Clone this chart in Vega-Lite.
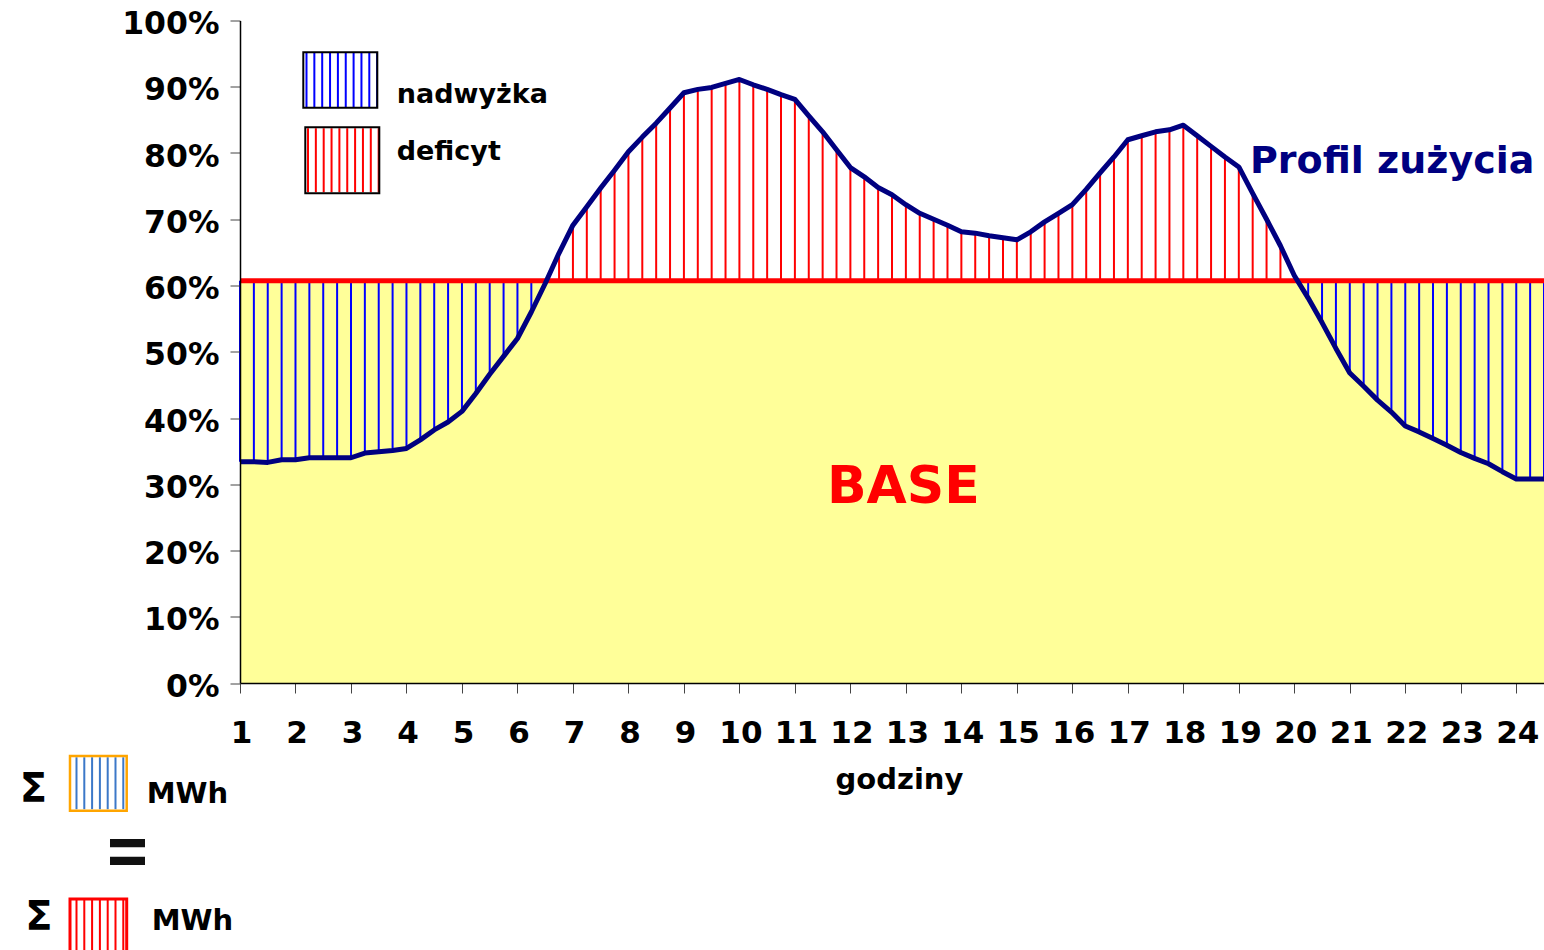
{
  "$schema": "https://vega.github.io/schema/vega-lite/v6.json",
  "width": 1304,
  "height": 662.5,
  "padding": {"left": 240, "top": 20.5, "right": 0, "bottom": 267},
  "autosize": {"type": "none"},
  "background": "white",
  "config": {"view": {"stroke": null}, "font": "DejaVu Sans"},
  "data": {"values": [
    {"h": 1.00, "v": 0.334}, {"h": 1.25, "v": 0.334}, {"h": 1.50, "v": 0.333}, {"h": 1.75, "v": 0.337},
    {"h": 2.00, "v": 0.337}, {"h": 2.25, "v": 0.340}, {"h": 2.50, "v": 0.340}, {"h": 2.75, "v": 0.340},
    {"h": 3.00, "v": 0.340}, {"h": 3.25, "v": 0.347}, {"h": 3.50, "v": 0.349}, {"h": 3.75, "v": 0.351},
    {"h": 4.00, "v": 0.354}, {"h": 4.25, "v": 0.367}, {"h": 4.50, "v": 0.382}, {"h": 4.75, "v": 0.394},
    {"h": 5.00, "v": 0.410}, {"h": 5.25, "v": 0.437}, {"h": 5.50, "v": 0.466}, {"h": 5.75, "v": 0.493},
    {"h": 6.00, "v": 0.520}, {"h": 6.25, "v": 0.560}, {"h": 6.50, "v": 0.603}, {"h": 6.75, "v": 0.649},
    {"h": 7.00, "v": 0.691}, {"h": 7.25, "v": 0.719}, {"h": 7.50, "v": 0.747}, {"h": 7.75, "v": 0.774},
    {"h": 8.00, "v": 0.802}, {"h": 8.25, "v": 0.824}, {"h": 8.50, "v": 0.845}, {"h": 8.75, "v": 0.868},
    {"h": 9.00, "v": 0.891}, {"h": 9.25, "v": 0.896}, {"h": 9.50, "v": 0.899}, {"h": 9.75, "v": 0.905},
    {"h": 10.00, "v": 0.911}, {"h": 10.25, "v": 0.903}, {"h": 10.50, "v": 0.896}, {"h": 10.75, "v": 0.888},
    {"h": 11.00, "v": 0.881}, {"h": 11.25, "v": 0.856}, {"h": 11.50, "v": 0.832}, {"h": 11.75, "v": 0.805},
    {"h": 12.00, "v": 0.778}, {"h": 12.25, "v": 0.764}, {"h": 12.50, "v": 0.748}, {"h": 12.75, "v": 0.737},
    {"h": 13.00, "v": 0.722}, {"h": 13.25, "v": 0.709}, {"h": 13.50, "v": 0.700}, {"h": 13.75, "v": 0.691},
    {"h": 14.00, "v": 0.681}, {"h": 14.25, "v": 0.679}, {"h": 14.50, "v": 0.675}, {"h": 14.75, "v": 0.672},
    {"h": 15.00, "v": 0.669}, {"h": 15.25, "v": 0.681}, {"h": 15.50, "v": 0.696}, {"h": 15.75, "v": 0.709},
    {"h": 16.00, "v": 0.722}, {"h": 16.25, "v": 0.745}, {"h": 16.50, "v": 0.770}, {"h": 16.75, "v": 0.794},
    {"h": 17.00, "v": 0.820}, {"h": 17.25, "v": 0.826}, {"h": 17.50, "v": 0.832}, {"h": 17.75, "v": 0.835},
    {"h": 18.00, "v": 0.842}, {"h": 18.25, "v": 0.826}, {"h": 18.50, "v": 0.810}, {"h": 18.75, "v": 0.794},
    {"h": 19.00, "v": 0.779}, {"h": 19.25, "v": 0.739}, {"h": 19.50, "v": 0.700}, {"h": 19.75, "v": 0.660},
    {"h": 20.00, "v": 0.615}, {"h": 20.25, "v": 0.581}, {"h": 20.50, "v": 0.544}, {"h": 20.75, "v": 0.505},
    {"h": 21.00, "v": 0.468}, {"h": 21.25, "v": 0.448}, {"h": 21.50, "v": 0.427}, {"h": 21.75, "v": 0.409},
    {"h": 22.00, "v": 0.388}, {"h": 22.25, "v": 0.379}, {"h": 22.50, "v": 0.369}, {"h": 22.75, "v": 0.359},
    {"h": 23.00, "v": 0.348}, {"h": 23.25, "v": 0.339}, {"h": 23.50, "v": 0.331}, {"h": 23.75, "v": 0.319},
    {"h": 24.00, "v": 0.308}, {"h": 24.25, "v": 0.308}, {"h": 24.50, "v": 0.308}
  ]},
  "layer": [
    {
      "mark": {"type": "line", "color": "#000080", "strokeWidth": 0, "opacity": 0},
      "encoding": {
        "x": {"field": "h", "type": "quantitative", "scale": {"domain": [1, 24.5], "nice": false, "zero": false},
          "axis": {
            "values": [1,1.25,1.5,1.75,2,2.25,2.5,2.75,3,3.25,3.5,3.75,4,4.25,4.5,4.75,5,5.25,5.5,5.75,6,6.25,6.5,6.75,7,7.25,7.5,7.75,8,8.25,8.5,8.75,9,9.25,9.5,9.75,10,10.25,10.5,10.75,11,11.25,11.5,11.75,12,12.25,12.5,12.75,13,13.25,13.5,13.75,14,14.25,14.5,14.75,15,15.25,15.5,15.75,16,16.25,16.5,16.75,17,17.25,17.5,17.75,18,18.25,18.5,18.75,19,19.25,19.5,19.75,20,20.25,20.5,20.75,21,21.25,21.5,21.75,22,22.25,22.5,22.75,23,23.25,23.5,23.75,24,24.25,24.5],
            "labelExpr": "datum.value % 1 == 0 ? format(datum.value, 'd') : ''",
            "labelOverlap": false,
            "labelFlush": false,
            "labelFont": "DejaVu Sans",
            "labelFontWeight": "bold",
            "labelFontSize": 31,
            "labelColor": "#000000",
            "labelPadding": 25,
            "labelOffset": 1,
            "tickSize": 10,
            "tickColor": "#444444",
            "tickWidth": 1,
            "domainColor": "#000000",
            "domainWidth": 1.5,
            "grid": false,
            "zindex": 1,
            "title": "godziny",
            "titleFont": "DejaVu Sans",
            "titleFontWeight": "bold",
            "titleFontSize": 29,
            "titleColor": "#000000",
            "titleX": 659,
            "titleY": 105,
            "titleAlign": "center",
            "titleBaseline": "alphabetic"
          }
        },
        "y": {"field": "v", "type": "quantitative", "scale": {"domain": [0, 1], "nice": false, "zero": false},
          "axis": {
            "values": [0, 0.1, 0.2, 0.3, 0.4, 0.5, 0.6, 0.7, 0.8, 0.9, 1],
            "format": ".0%",
            "labelFont": "DejaVu Sans",
            "labelFontWeight": "bold",
            "labelFontSize": 31.5,
            "labelColor": "#000000",
            "labelPadding": 11,
            "labelOffset": 4,
            "labelFlush": false,
            "labelOverlap": false,
            "tickSize": 10,
            "tickColor": "#444444",
            "tickWidth": 1,
            "domainColor": "#000000",
            "domainWidth": 1.5,
            "grid": false,
            "zindex": 1,
            "title": null
          }
        }
      }
    },
    {
      "data": {"values": [{}]},
      "mark": {"type": "rect", "color": "#FFFF99"},
      "encoding": {
        "x": {"datum": 1, "type": "quantitative"},
        "x2": {"datum": 24.5},
        "y": {"datum": 0, "type": "quantitative"},
        "y2": {"datum": 0.607}
      }
    },
    {
      "mark": {"type": "rule", "strokeWidth": 2},
      "encoding": {
        "x": {"field": "h", "type": "quantitative"},
        "y": {"field": "v", "type": "quantitative"},
        "y2": {"datum": 0.607},
        "color": {"condition": {"test": "datum.v < 0.607", "value": "#0000FF"}, "value": "#FF0000"}
      }
    },
    {
      "data": {"values": [{}]},
      "mark": {"type": "rule", "color": "#FF0000", "strokeWidth": 5},
      "encoding": {
        "x": {"datum": 1, "type": "quantitative"},
        "x2": {"datum": 24.5},
        "y": {"datum": 0.607, "type": "quantitative"}
      }
    },
    {
      "mark": {"type": "line", "color": "#000080", "strokeWidth": 5, "strokeJoin": "round"},
      "encoding": {
        "x": {"field": "h", "type": "quantitative"},
        "y": {"field": "v", "type": "quantitative"}
      }
    },
    {
      "data": {"values": [{}]},
      "mark": {"type": "rule", "color": "#0000FF", "strokeWidth": 54, "strokeDash": [2, 5.85], "strokeCap": "butt"},
      "encoding": {
        "x": {"datum": 2.1804, "type": "quantitative"},
        "x2": {"datum": 3.469},
        "y": {"datum": 0.9102, "type": "quantitative"}
      }
    },
    {
      "data": {"values": [{}]},
      "mark": {"type": "rect", "filled": false, "stroke": "#000000", "strokeWidth": 2},
      "encoding": {
        "x": {"datum": 2.1408, "type": "quantitative"},
        "x2": {"datum": 3.4743},
        "y": {"datum": 0.952, "type": "quantitative"},
        "y2": {"datum": 0.8684}
      }
    },
    {
      "data": {"values": [{}]},
      "mark": {"type": "rule", "color": "#FF0000", "strokeWidth": 64, "strokeDash": [2, 5.85], "strokeCap": "butt"},
      "encoding": {
        "x": {"datum": 2.2074, "type": "quantitative"},
        "x2": {"datum": 3.505},
        "y": {"datum": 0.789, "type": "quantitative"}
      }
    },
    {
      "data": {"values": [{}]},
      "mark": {"type": "rect", "filled": false, "stroke": "#000000", "strokeWidth": 2},
      "encoding": {
        "x": {"datum": 2.1768, "type": "quantitative"},
        "x2": {"datum": 3.5104},
        "y": {"datum": 0.8388, "type": "quantitative"},
        "y2": {"datum": 0.7392}
      }
    },
    {
      "data": {"values": [{}]},
      "mark": {"type": "text", "text": "nadwyżka", "font": "DejaVu Sans", "fontWeight": "bold", "fontSize": 27, "align": "left", "baseline": "alphabetic", "color": "#000000"},
      "encoding": {
        "x": {"datum": 3.824, "type": "quantitative"},
        "y": {"datum": 0.8755, "type": "quantitative"}
      }
    },
    {
      "data": {"values": [{}]},
      "mark": {"type": "text", "text": "deficyt", "font": "DejaVu Sans", "fontWeight": "bold", "fontSize": 27, "align": "left", "baseline": "alphabetic", "color": "#000000"},
      "encoding": {
        "x": {"datum": 3.824, "type": "quantitative"},
        "y": {"datum": 0.7894, "type": "quantitative"}
      }
    },
    {
      "data": {"values": [{}]},
      "mark": {"type": "text", "text": "Profil zużycia", "font": "DejaVu Sans", "fontWeight": "bold", "fontSize": 38, "align": "left", "baseline": "alphabetic", "color": "#000080"},
      "encoding": {
        "x": {"datum": 19.2018, "type": "quantitative"},
        "y": {"datum": 0.7694, "type": "quantitative"}
      }
    },
    {
      "data": {"values": [{}]},
      "mark": {"type": "text", "text": "BASE", "font": "DejaVu Sans", "fontWeight": "bold", "fontSize": 52, "align": "center", "baseline": "alphabetic", "color": "#FF0000"},
      "encoding": {
        "x": {"datum": 12.954, "type": "quantitative"},
        "y": {"datum": 0.2712, "type": "quantitative"}
      }
    },
    {
      "data": {"values": [{}]},
      "mark": {"type": "text", "text": "Σ", "font": "DejaVu Sans", "fontWeight": "bold", "fontSize": 40, "align": "center", "baseline": "alphabetic", "color": "#000000"},
      "encoding": {
        "x": {"datum": -2.725, "type": "quantitative"},
        "y": {"datum": -0.1792, "type": "quantitative"}
      }
    },
    {
      "data": {"values": [{}]},
      "mark": {"type": "rule", "color": "#3C78C8", "strokeWidth": 52, "strokeDash": [2, 5.8], "strokeCap": "butt"},
      "encoding": {
        "x": {"datum": -1.9646, "type": "quantitative"},
        "x2": {"datum": -1.0545},
        "y": {"datum": -0.1514, "type": "quantitative"}
      }
    },
    {
      "data": {"values": [{}]},
      "mark": {"type": "rect", "filled": false, "stroke": "#FFA500", "strokeWidth": 2.5},
      "encoding": {
        "x": {"datum": -2.0637, "type": "quantitative"},
        "x2": {"datum": -1.0418},
        "y": {"datum": -0.1102, "type": "quantitative"},
        "y2": {"datum": -0.1928}
      }
    },
    {
      "data": {"values": [{}]},
      "mark": {"type": "text", "text": "MWh", "font": "DejaVu Sans", "fontWeight": "bold", "fontSize": 29, "align": "left", "baseline": "alphabetic", "color": "#000000"},
      "encoding": {
        "x": {"datum": -0.6814, "type": "quantitative"},
        "y": {"datum": -0.1807, "type": "quantitative"}
      }
    },
    {
      "data": {"values": [{}]},
      "mark": {"type": "rect", "color": "#111111"},
      "encoding": {
        "x": {"datum": -1.3428, "type": "quantitative"},
        "x2": {"datum": -0.7121},
        "y": {"datum": -0.2355, "type": "quantitative"},
        "y2": {"datum": -0.248}
      }
    },
    {
      "data": {"values": [{}]},
      "mark": {"type": "rect", "color": "#111111"},
      "encoding": {
        "x": {"datum": -1.3428, "type": "quantitative"},
        "x2": {"datum": -0.7121},
        "y": {"datum": -0.2622, "type": "quantitative"},
        "y2": {"datum": -0.2747}
      }
    },
    {
      "data": {"values": [{}]},
      "mark": {"type": "text", "text": "Σ", "font": "DejaVu Sans", "fontWeight": "bold", "fontSize": 40, "align": "center", "baseline": "alphabetic", "color": "#000000"},
      "encoding": {
        "x": {"datum": -2.6259, "type": "quantitative"},
        "y": {"datum": -0.3728, "type": "quantitative"}
      }
    },
    {
      "data": {"values": [{}]},
      "mark": {"type": "rule", "color": "#FF0000", "strokeWidth": 60, "strokeDash": [2, 5.8], "strokeCap": "butt"},
      "encoding": {
        "x": {"datum": -1.9646, "type": "quantitative"},
        "x2": {"datum": -1.0545},
        "y": {"datum": -0.3698, "type": "quantitative"}
      }
    },
    {
      "data": {"values": [{}]},
      "mark": {"type": "rect", "filled": false, "stroke": "#FF0000", "strokeWidth": 3},
      "encoding": {
        "x": {"datum": -2.0637, "type": "quantitative"},
        "x2": {"datum": -1.0418},
        "y": {"datum": -0.326, "type": "quantitative"},
        "y2": {"datum": -0.4181}
      }
    },
    {
      "data": {"values": [{}]},
      "mark": {"type": "text", "text": "MWh", "font": "DejaVu Sans", "fontWeight": "bold", "fontSize": 29, "align": "left", "baseline": "alphabetic", "color": "#000000"},
      "encoding": {
        "x": {"datum": -0.5913, "type": "quantitative"},
        "y": {"datum": -0.3728, "type": "quantitative"}
      }
    }
  ]
}
